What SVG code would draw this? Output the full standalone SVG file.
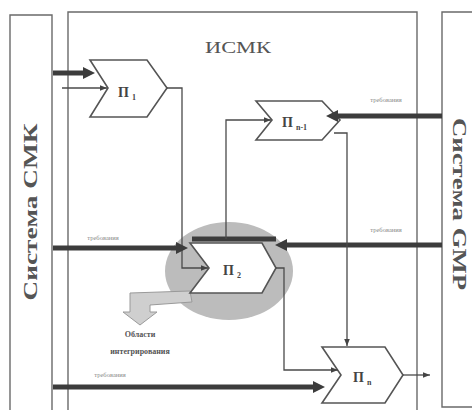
<svg xmlns="http://www.w3.org/2000/svg" width="472" height="410" viewBox="0 0 472 410">
<defs>
<style>
.frame{fill:none;stroke:#6a6a6a;stroke-width:1.4}
.proc{fill:#ffffff;stroke:#555;stroke-width:1.6}
.thin{fill:none;stroke:#4a4a4a;stroke-width:1.3}
.thick{fill:none;stroke:#3c3c3c;stroke-width:5}
.plabel{font-family:"Liberation Serif",serif;font-size:14px;font-weight:bold;fill:#444}
.sub{font-family:"Liberation Serif",serif;font-size:8px;font-weight:bold;fill:#444}
.req{font-family:"Liberation Serif",serif;font-size:6.5px;fill:#888}
.sys{font-family:"Liberation Serif",serif;font-size:18px;font-weight:bold;fill:#555}
.title{font-family:"Liberation Serif",serif;font-size:17px;fill:#555}
.area{font-family:"Liberation Serif",serif;font-size:8px;font-weight:bold;fill:#555}
</style>
<marker id="ah" viewBox="0 0 10 10" refX="10" refY="5" markerWidth="7" markerHeight="7" markerUnits="userSpaceOnUse" orient="auto"><path d="M0,1 L10,5 L0,9 z" fill="#444"/></marker>
<marker id="ahb" viewBox="0 0 12 12" refX="0" refY="6" markerWidth="12" markerHeight="12" markerUnits="userSpaceOnUse" orient="auto"><path d="M0,0 L12,6 L0,12 z" fill="#3c3c3c"/></marker>
</defs>
<rect width="472" height="410" fill="#ffffff"/>

<g id="sys-smk">
<path class="frame" d="M10,412 V15 H52 V412"/>
<text class="sys" transform="translate(37,212) rotate(-90)" text-anchor="middle" textLength="177" lengthAdjust="spacingAndGlyphs">Система СМК</text>
</g>

<g id="ismk">
<path class="frame" d="M68,412 V12 H417 V412"/>
<text class="title" x="238" y="53" text-anchor="middle" textLength="66" lengthAdjust="spacingAndGlyphs">ИСМК</text>
</g>

<g id="sys-gmp">
<path class="frame" d="M476,407 H442 V12 H476"/>
<text class="sys" transform="translate(453,204) rotate(90)" text-anchor="middle" textLength="172" lengthAdjust="spacingAndGlyphs">Система GMP</text>
</g>

<g id="area">
<ellipse cx="229" cy="271" rx="64" ry="49" fill="#bcbcbc"/>
<path d="M190,291 L130,293 V312 H123 L140,325 L157,312 H150 V305 L192,302 Z" fill="#cfcfcf" stroke="#9a9a9a" stroke-width="1"/>
<text class="area" x="140" y="337" text-anchor="middle">Области</text>
<text class="area" x="140" y="354" text-anchor="middle">интегрирования</text>
</g>

<g id="p1">
<polygon class="proc" points="90,60 147,60 167,88 147,117 90,117 108,88"/>
<text class="plabel" x="118" y="97">П</text><text class="sub" x="132" y="100">1</text>
</g>

<g id="pn1">
<polygon class="proc" points="256,101 322,101 340,120 322,140 256,140 272,120"/>
<text class="plabel" x="282" y="127">П</text><text class="sub" x="296" y="130">n-1</text>
</g>

<g id="p2">
<polygon class="proc" points="190,243 262,243 276,268 262,293 190,293 209,268"/>
<text class="plabel" x="223" y="275">П</text><text class="sub" x="237" y="278">2</text>
</g>

<g id="pn">
<polygon class="proc" points="322,347 385,347 403,375 385,403 322,403 341,375"/>
<text class="plabel" x="353" y="382">П</text><text class="sub" x="367" y="385">n</text>
</g>

<g id="connectors">
<line class="thick" x1="53" y1="73" x2="83" y2="73" marker-end="url(#ahb)"/>
<line class="thin" x1="62" y1="88" x2="107" y2="88" marker-end="url(#ah)"/>
<polyline class="thin" points="167,88 182,88 182,268 208,268" marker-end="url(#ah)"/>
<line class="thick" x1="53" y1="248" x2="176" y2="248" marker-end="url(#ahb)"/>
<line class="thick" x1="192" y1="239" x2="276" y2="239"/>
<line class="thick" x1="442" y1="245" x2="287" y2="245" marker-end="url(#ahb)"/>
<line class="thick" x1="442" y1="116" x2="338" y2="116" marker-end="url(#ahb)"/>
<line class="thick" x1="53" y1="387" x2="313" y2="387" marker-end="url(#ahb)"/>
<polyline class="thin" points="226,239 226,120 271,120" marker-end="url(#ah)"/>
<polyline class="thin" points="334,133 347,133 347,346" marker-end="url(#ah)"/>
<polyline class="thin" points="276,268 284,268 284,370 338,370" marker-end="url(#ah)"/>
<line class="thin" x1="403" y1="375" x2="430" y2="375" marker-end="url(#ah)"/>
<text class="req" x="103" y="240" text-anchor="middle">требования</text>
<text class="req" x="110" y="377" text-anchor="middle">требования</text>
<text class="req" x="386" y="102" text-anchor="middle">требования</text>
<text class="req" x="386" y="232" text-anchor="middle">требования</text>
</g>
</svg>
